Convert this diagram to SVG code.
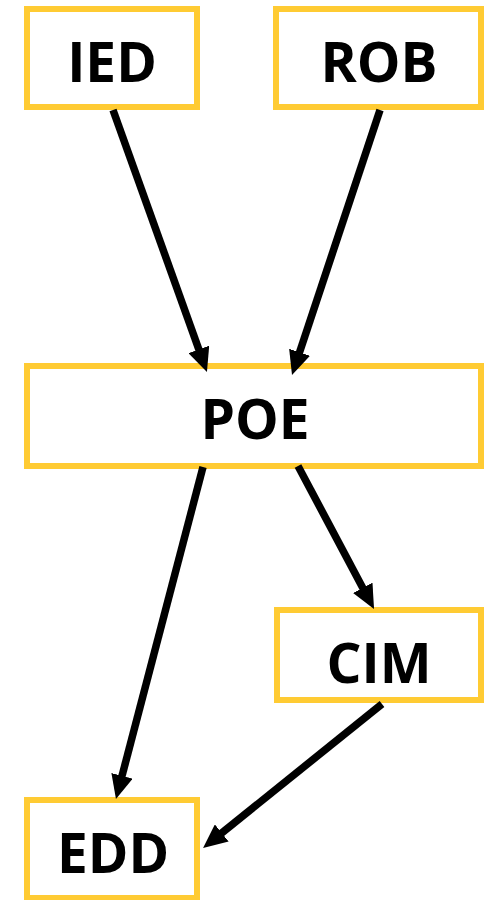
<svg xmlns="http://www.w3.org/2000/svg" width="485" height="900" viewBox="0 0 485 900">
<style>
.box{fill:#fff;stroke:#FFCB33;stroke-width:6}
.lbl{font-family:"Open Sans","Liberation Sans",sans-serif;font-weight:bold;font-size:55px;fill:#000;text-anchor:middle}
.edge{stroke:#000;stroke-width:7.5;fill:none;marker-end:url(#arr)}
</style>
<defs>
<marker id="arr" markerUnits="userSpaceOnUse" viewBox="0 0 24 22" markerWidth="24" markerHeight="22" refX="12" refY="11" orient="auto">
<path d="M0,0 L24,11 L0,22 z" fill="#000"/>
</marker>
</defs>
<rect width="485" height="900" fill="#fff"/>
<g id="IED"><rect class="box" x="27" y="9" width="170" height="98"/><text class="lbl" x="112" y="82">IED</text></g>
<g id="ROB"><rect class="box" x="276" y="9" width="205" height="98"/><text class="lbl" x="379" y="82">ROB</text></g>
<g id="POE"><rect class="box" x="27" y="366" width="454" height="100"/><text class="lbl" x="255" y="439">POE</text></g>
<g id="CIM"><rect class="box" x="277" y="610" width="204" height="90"/><text class="lbl" x="379" y="683">CIM</text></g>
<g id="EDD"><rect class="box" x="27" y="800" width="170" height="98"/><text class="lbl" x="113" y="873">EDD</text></g>
<g id="connectors">
<line class="edge" x1="113" y1="110" x2="202.9" y2="360.7"/>
<line class="edge" x1="380" y1="110" x2="295.8" y2="363.6"/>
<line class="edge" x1="203" y1="467" x2="119" y2="787.4"/>
<line class="edge" x1="298" y1="466" x2="368.4" y2="598.4"/>
<line class="edge" x1="382" y1="704" x2="212.4" y2="840.5"/>
</g>
</svg>
